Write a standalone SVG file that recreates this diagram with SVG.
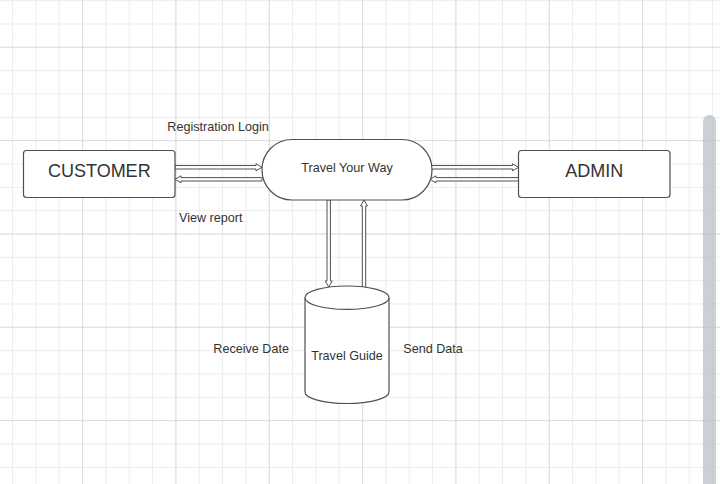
<svg xmlns="http://www.w3.org/2000/svg" width="720" height="484" viewBox="0 0 720 484">
  <defs>
    <pattern id="minor" width="23.333" height="23.333" patternUnits="userSpaceOnUse" x="12.1" y="0.17">
      <path d="M0 0.5H23.333M0.5 0V23.333" stroke="#ececec" stroke-width="1" fill="none"/>
    </pattern>
    <pattern id="major" width="93.333" height="93.333" patternUnits="userSpaceOnUse" x="82.1" y="46.8">
      <path d="M0 0.5H93.333M0.5 0V93.333" stroke="#dcdcdc" stroke-width="1" fill="none"/>
    </pattern>
  </defs>
  <style>
    .shape { fill: #ffffff; stroke: #505050; stroke-width: 1.2; }
    .conn { fill: #ffffff; stroke: #505050; stroke-width: 1; stroke-linejoin: miter; }
    .lbl { font-family: "Liberation Sans", Arial, sans-serif; font-size: 12.6px; fill: #333333; }
    .big { font-family: "Liberation Sans", Arial, sans-serif; font-size: 18px; fill: #333333; }
  </style>
  <rect width="720" height="484" fill="#ffffff"/>
  <rect width="720" height="484" fill="url(#minor)"/>
  <rect width="720" height="484" fill="url(#major)"/>

  <g id="connectors">
    <!-- Customer -> Travel Your Way -->
    <path class="conn" d="M175 165.5H256V163.8L262 167.3L256 170.8V169H175Z"/>
    <!-- Travel Your Way -> Customer -->
    <path class="conn" d="M262 177.6H181V175.8L175 179.3L181 182.8V181H262Z"/>
    <!-- Travel Your Way -> Admin -->
    <path class="conn" d="M431 165.5H512.5V163.8L518.5 167.3L512.5 170.8V169H431Z"/>
    <!-- Admin -> Travel Your Way -->
    <path class="conn" d="M518.5 177.6H436V175.8L430 179.3L436 182.8V181H518.5Z"/>
    <!-- Travel Your Way -> Travel Guide -->
    <path class="conn" d="M327 200V281H325.2L328.7 287L332.2 281H330.4V200Z"/>
    <!-- Travel Guide -> Travel Your Way -->
    <path class="conn" d="M362.3 288V206H360.5L364 200L367.5 206H365.7V288Z"/>
  </g>

  <g id="customer">
    <rect class="shape" x="23.5" y="150.5" width="151.5" height="47" rx="3"/>
    <text class="big" x="99.3" y="177.3" text-anchor="middle">CUSTOMER</text>
  </g>

  <g id="admin">
    <rect class="shape" x="518.5" y="150.5" width="151.5" height="47" rx="3"/>
    <text class="big" x="594.3" y="177.3" text-anchor="middle">ADMIN</text>
  </g>

  <g id="travel-your-way">
    <rect class="shape" x="262" y="139.5" width="170" height="60.5" rx="30" ry="30"/>
    <text class="lbl" x="347" y="171.7" text-anchor="middle">Travel Your Way</text>
  </g>

  <g id="travel-guide">
    <path class="shape" d="M305 297.7V392A42 11.5 0 0 0 389 392V297.7A42 11.7 0 0 0 305 297.7Z"/>
    <path class="shape" d="M305 297.7A42 11.7 0 0 0 389 297.7" fill="none"/>
    <text class="lbl" x="347" y="360" text-anchor="middle">Travel Guide</text>
  </g>

  <g id="labels">
    <text class="lbl" x="167.3" y="130.7">Registration Login</text>
    <text class="lbl" x="179" y="221.7">View report</text>
    <text class="lbl" x="213.3" y="352.7">Receive Date</text>
    <text class="lbl" x="403.3" y="352.7">Send Data</text>
  </g>

  <rect x="703" y="115" width="13" height="380" rx="6.5" fill="#b8bdc5" opacity="0.72"/>
</svg>
